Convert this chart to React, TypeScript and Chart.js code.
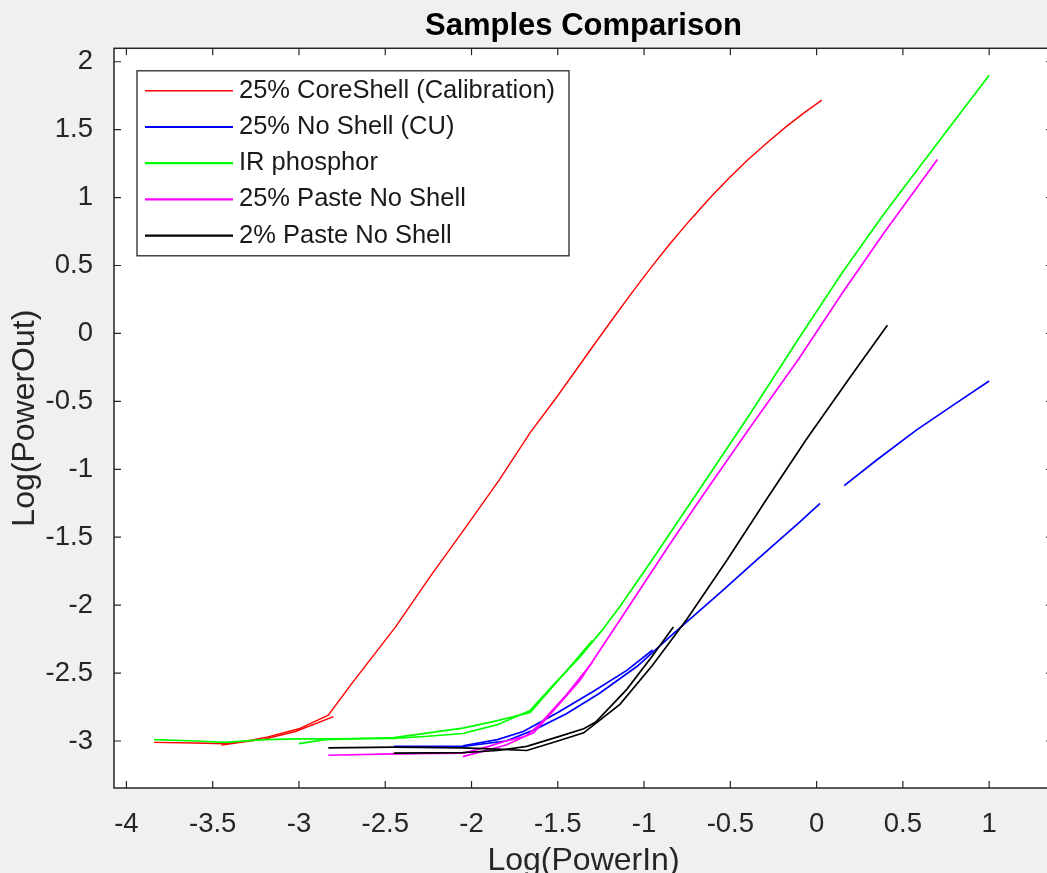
import React, { useEffect, useRef } from 'react';
import { Chart, registerables } from 'chart.js';

Chart.register(...registerables);

const FONT = '"Liberation Sans", Arial, Helvetica, sans-serif';

// ---- series meta ----
const seriesLabels = [
  '25% CoreShell (Calibration)',
  '25% No Shell (CU)',
  'IR phosphor',
  '25% Paste No Shell',
  '2% Paste No Shell',
];
const seriesColors = ['#ff0000', '#0000ff', '#00ff00', '#ff00ff', '#000000'];

// ---- ticks / limits ----
const xTicks = [-4, -3.5, -3, -2.5, -2, -1.5, -1, -0.5, 0, 0.5, 1];
const yTicks = [-3, -2.5, -2, -1.5, -1, -0.5, 0, 0.5, 1, 1.5, 2];
const xLimits = [-4.072, 1.37];
const yLimits = [-3.346, 2.099];

// ---- 25% CoreShell (Calibration) ----
const redUpX = [-3.84, -3.60, -3.43, -3.30, -3.18, -3.00, -2.83, -2.69, -2.44, -2.24, -2.03, -1.84, -1.66, -1.51, -1.40, -1.29, -1.18, -1.07, -0.96, -0.85, -0.735, -0.62, -0.51, -0.40, -0.29, -0.18, -0.075, 0.03];
const redUpY = [-3.01, -3.015, -3.02, -3.00, -2.97, -2.91, -2.81, -2.57, -2.16, -1.79, -1.42, -1.08, -0.73, -0.475, -0.28, -0.083, 0.11, 0.30, 0.485, 0.66, 0.832, 0.995, 1.14, 1.277, 1.40, 1.519, 1.622, 1.718];
const redDownX = [-2.80, -3.02, -3.20, -3.45];
const redDownY = [-2.82, -2.93, -2.985, -3.03];

// ---- 25% No Shell (CU) ----
const blueUpX = [-2.45, -2.05, -1.80, -1.64, -1.45, -1.26, -1.04, -0.83, -0.56, -0.35, -0.10, 0.02];
const blueUpY = [-3.04, -3.04, -3.00, -2.92, -2.80, -2.65, -2.45, -2.21, -1.91, -1.67, -1.39, -1.25];
const blueHighX = [0.16, 0.35, 0.58, 0.80, 1.00];
const blueHighY = [-1.12, -0.93, -0.71, -0.52, -0.35];
const blueDownX = [-0.95, -1.10, -1.30, -1.50, -1.70, -1.85, -2.05];
const blueDownY = [-2.33, -2.48, -2.64, -2.79, -2.93, -2.99, -3.035];

// ---- IR phosphor ----
const greenUpX = [-3.84, -3.60, -3.43, -3.20, -3.00, -2.85, -2.45, -2.25, -2.05, -1.85, -1.66, -1.52, -1.37, -1.25, -1.14, -0.95, -0.68, -0.39, -0.10, 0.15, 0.39, 0.70, 1.00];
const greenUpY = [-2.99, -3.00, -3.01, -2.99, -2.985, -2.985, -2.98, -2.965, -2.945, -2.88, -2.775, -2.58, -2.38, -2.195, -2.01, -1.66, -1.15, -0.60, -0.03, 0.45, 0.88, 1.40, 1.90];
const greenDownX = [-1.30, -1.45, -1.66, -1.85, -2.05, -2.45, -2.85, -3.00];
const greenDownY = [-2.26, -2.485, -2.79, -2.85, -2.905, -2.975, -2.99, -3.02];

// ---- 25% Paste No Shell ----
const magUpX = [-2.83, -2.45, -2.05, -1.90, -1.80, -1.70, -1.64, -1.50, -1.37, -1.14, -0.85, -0.68, -0.39, -0.10, 0.15, 0.39, 0.70];
const magUpY = [-3.105, -3.095, -3.09, -3.04, -3.00, -2.97, -2.94, -2.74, -2.55, -2.11, -1.55, -1.23, -0.70, -0.18, 0.30, 0.74, 1.28];
const magDownX = [-1.30, -1.45, -1.60, -1.68, -1.80, -2.05];
const magDownY = [-2.42, -2.66, -2.87, -2.96, -3.03, -3.115];

// ---- 2% Paste No Shell ----
const blackUpX = [-2.83, -2.45, -2.05, -1.85, -1.68, -1.50, -1.35, -1.26, -1.14, -0.95, -0.75, -0.52, -0.29, -0.06, 0.19, 0.41];
const blackUpY = [-3.05, -3.045, -3.05, -3.06, -3.07, -3.00, -2.94, -2.85, -2.73, -2.44, -2.10, -1.67, -1.22, -0.78, -0.33, 0.06];
const blackLowX = [-2.45, -2.05, -1.85, -1.68, -1.50, -1.35, -1.28, -1.10, -0.95, -0.83];
const blackLowY = [-3.09, -3.085, -3.07, -3.04, -2.97, -2.91, -2.86, -2.62, -2.37, -2.16];

const passes: { s: number; xs: number[]; ys: number[] }[] = [
  { s: 0, xs: redUpX, ys: redUpY },
  { s: 0, xs: redDownX, ys: redDownY },
  { s: 1, xs: blueUpX, ys: blueUpY },
  { s: 1, xs: blueHighX, ys: blueHighY },
  { s: 1, xs: blueDownX, ys: blueDownY },
  { s: 2, xs: greenUpX, ys: greenUpY },
  { s: 2, xs: greenDownX, ys: greenDownY },
  { s: 3, xs: magUpX, ys: magUpY },
  { s: 3, xs: magDownX, ys: magDownY },
  { s: 4, xs: blackUpX, ys: blackUpY },
  { s: 4, xs: blackLowX, ys: blackLowY },
];

const AXIS_COLOR = '#262626';

const backgroundPlugin = {
  id: 'bg',
  beforeDraw(chart: any) {
    const { ctx, chartArea, width, height } = chart;
    ctx.save();
    ctx.fillStyle = '#f0f0f0';
    ctx.fillRect(0, 0, width, height);
    ctx.fillStyle = '#ffffff';
    ctx.fillRect(chartArea.left, chartArea.top, chartArea.right - chartArea.left, chartArea.bottom - chartArea.top);
    ctx.restore();
  },
};

const boxPlugin = {
  id: 'box',
  afterDatasetsDraw(chart: any) {
    const { ctx, chartArea } = chart;
    const { left, top, right, bottom } = chartArea;
    const xs = chart.scales.x;
    const ys = chart.scales.y;
    const tl = 7;
    ctx.save();
    ctx.strokeStyle = AXIS_COLOR;
    ctx.lineWidth = 1.5;
    ctx.strokeRect(left, top, right - left, bottom - top);
    ctx.lineWidth = 1.2;
    ctx.beginPath();
    xTicks.forEach((v) => {
      const p = xs.getPixelForValue(v);
      ctx.moveTo(p, bottom);
      ctx.lineTo(p, bottom - tl);
      ctx.moveTo(p, top);
      ctx.lineTo(p, top + tl);
    });
    yTicks.forEach((v) => {
      const p = ys.getPixelForValue(v);
      ctx.moveTo(left, p);
      ctx.lineTo(left + tl, p);
      ctx.moveTo(right, p);
      ctx.lineTo(right - tl, p);
    });
    ctx.stroke();
    ctx.restore();
  },
};

const legendPlugin = {
  id: 'matlabLegend',
  afterDraw(chart: any) {
    const { ctx, chartArea } = chart;
    const left = chartArea.left + 23;
    const top = chartArea.top + 22.5;
    const w = 432;
    const h = 185;
    ctx.save();
    ctx.fillStyle = '#ffffff';
    ctx.fillRect(left, top, w, h);
    ctx.strokeStyle = AXIS_COLOR;
    ctx.lineWidth = 1.3;
    ctx.strokeRect(left, top, w, h);
    ctx.font = `25.5px ${FONT}`;
    ctx.textBaseline = 'middle';
    ctx.textAlign = 'left';
    seriesLabels.forEach((lab, i) => {
      const y = top + 20 + i * 36.2;
      ctx.strokeStyle = seriesColors[i];
      ctx.lineWidth = i === 0 ? 1.4 : 2.2;
      ctx.beginPath();
      ctx.moveTo(left + 8, y);
      ctx.lineTo(left + 96, y);
      ctx.stroke();
      ctx.fillStyle = '#1a1a1a';
      ctx.fillText(lab, left + 102, y);
    });
    ctx.restore();
  },
};

export default function App() {
  const ref = useRef<HTMLCanvasElement | null>(null);

  useEffect(() => {
    if (!ref.current) return;
    Chart.defaults.font.family = FONT;
    const datasets = passes.map((p) => ({
      label: seriesLabels[p.s],
      data: p.xs.map((x, i) => ({ x, y: p.ys[i] })),
      borderColor: seriesColors[p.s],
      backgroundColor: seriesColors[p.s],
      borderWidth: p.s === 0 ? 1.4 : 1.7,
      pointRadius: 0,
      showLine: true,
      fill: false,
      tension: 0,
      order: 10 - p.s,
    }));

    const chart = new Chart(ref.current, {
      type: 'scatter',
      data: { datasets },
      options: {
        animation: false,
        responsive: false,
        devicePixelRatio: 1,
        events: [],
        layout: { padding: { left: 0, top: 0, right: 7, bottom: 0 } },
        plugins: {
          legend: { display: false },
          tooltip: { enabled: false },
          title: {
            display: true,
            fullSize: false,
            text: 'Samples Comparison',
            color: '#000000',
            font: { size: 31, weight: 'bold', family: FONT, lineHeight: 1.2 },
            padding: { top: 8, bottom: 3.1 },
          },
        },
        scales: {
          x: {
            type: 'linear',
            min: xLimits[0],
            max: xLimits[1],
            afterFit: (s: any) => {
              s.height = 92;
            },
            afterBuildTicks: (s: any) => {
              s.ticks = xTicks.map((v) => ({ value: v }));
            },
            grid: { display: false },
            border: { display: false },
            ticks: {
              color: AXIS_COLOR,
              font: { size: 27.5, family: FONT, lineHeight: 1.2 },
              padding: 12,
              maxRotation: 0,
              autoSkip: false,
              includeBounds: false,
              callback: (v: any) => String(v),
            },
            title: {
              display: true,
              text: 'Log(PowerIn)',
              color: AXIS_COLOR,
              font: { size: 32, family: FONT, lineHeight: 1.2 },
              padding: { top: 0, bottom: 0 },
            },
          },
          y: {
            type: 'linear',
            min: yLimits[0],
            max: yLimits[1],
            afterFit: (s: any) => {
              s.width = 114;
            },
            afterBuildTicks: (s: any) => {
              s.ticks = yTicks.map((v) => ({ value: v }));
            },
            grid: { display: false },
            border: { display: false },
            ticks: {
              color: AXIS_COLOR,
              font: { size: 27.5, family: FONT, lineHeight: 1.2 },
              padding: 13,
              autoSkip: false,
              includeBounds: false,
              callback: (v: any) => String(v),
            },
            title: {
              display: true,
              text: 'Log(PowerOut)',
              color: AXIS_COLOR,
              font: { size: 32, family: FONT, lineHeight: 1.2 },
              padding: { top: 6, bottom: 0 },
            },
          },
        },
      } as any,
      plugins: [backgroundPlugin, boxPlugin, legendPlugin],
    });
    return () => chart.destroy();
  }, []);

  return (
    <div
      style={{
        position: 'fixed',
        left: 0,
        top: 0,
        width: 1047,
        height: 873,
        overflow: 'hidden',
        background: '#f0f0f0',
      }}
    >
      <canvas ref={ref} width={1060} height={880} style={{ display: 'block' }} />
    </div>
  );
}
